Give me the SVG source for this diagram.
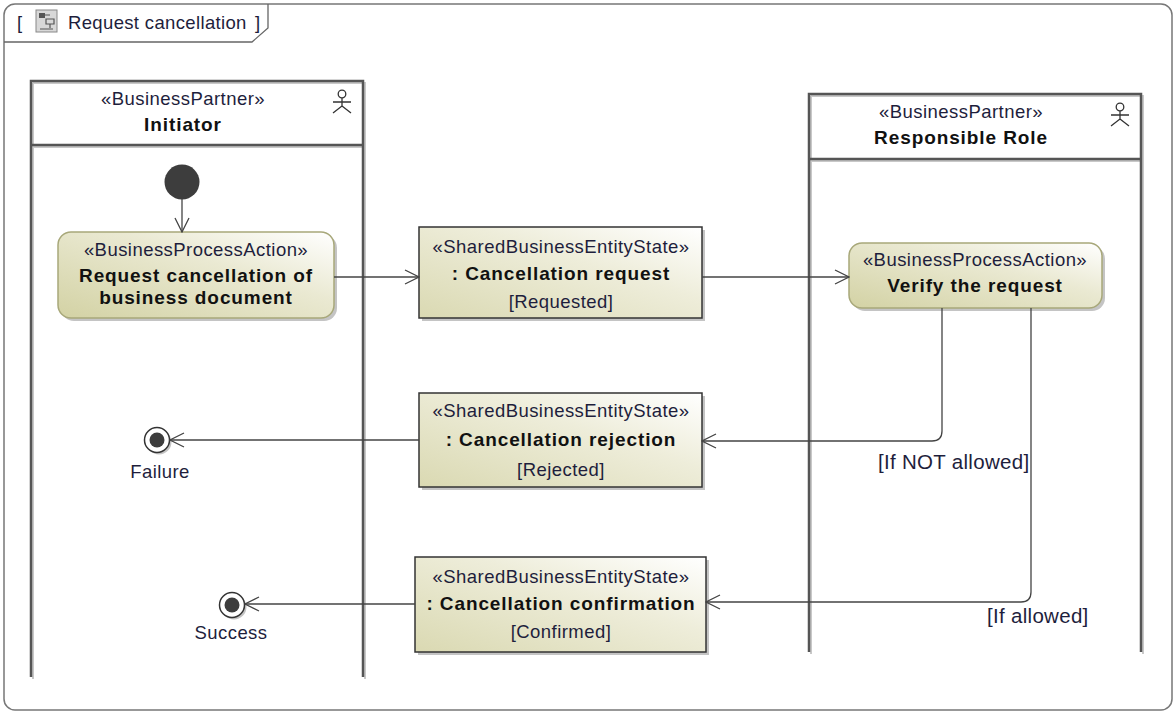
<svg xmlns="http://www.w3.org/2000/svg" width="1176" height="713" viewBox="0 0 1176 713">
<defs>
<style>
.st{font-family:"Liberation Sans",Arial,sans-serif;font-size:18.5px;letter-spacing:0.45px;fill:#1e1e3c;text-anchor:middle}
.nm{font-family:"Liberation Sans",Arial,sans-serif;font-size:19px;font-weight:bold;letter-spacing:0.9px;fill:#111;text-anchor:middle}
.gd{font-family:"Liberation Sans",Arial,sans-serif;font-size:20.5px;letter-spacing:0.3px;fill:#1e1e3c}
.lane{fill:none;stroke:#555;stroke-width:2.5}
.laneSh{fill:none;stroke:#c8c8c8;stroke-width:2}
.act{fill:url(#gAct);stroke:#a8a87a;stroke-width:1.5}
.obj{fill:url(#gObj);stroke:#333;stroke-width:1.5}
.sh{fill:#c4c4c4}
.flow{fill:none;stroke:#444;stroke-width:1.3}
.actor{fill:none;stroke:#333;stroke-width:1.3}
</style>
<linearGradient id="gAct" x1="0" y1="1" x2="1" y2="0">
<stop offset="0" stop-color="#d3d2a4"/>
<stop offset="0.6" stop-color="#eae9d2"/>
<stop offset="1" stop-color="#ffffff"/>
</linearGradient>
<linearGradient id="gObj" x1="0" y1="1" x2="1" y2="0">
<stop offset="0" stop-color="#dad9b2"/>
<stop offset="0.6" stop-color="#eeedda"/>
<stop offset="1" stop-color="#ffffff"/>
</linearGradient>
<marker id="open" viewBox="0 0 16 16" refX="15" refY="8" markerWidth="16" markerHeight="16" markerUnits="userSpaceOnUse" orient="auto">
<path d="M1,1 L15,8 L1,15" fill="none" stroke="#444" stroke-width="1.3"/>
</marker>
</defs>
<rect width="1176" height="713" fill="#ffffff"/>

<g id="frame">
<rect x="4" y="4" width="1168" height="706" rx="11" fill="none" stroke="#777" stroke-width="1.5"/>
<path d="M4,42 H252 L268,28 V4" fill="none" stroke="#666" stroke-width="1.3"/>
<text x="17" y="29" style="font-family:'Liberation Sans',Arial,sans-serif;font-size:18.5px;fill:#1e1e3c">[</text>
<rect x="36" y="10" width="21" height="22" fill="#d8d8d8" stroke="#888" stroke-width="1"/>
<rect x="39" y="13" width="6" height="5" fill="#555"/>
<path d="M45,15 H50 M46,19 H54 V24 H46 Z M50,24 V28 M40,29 H53" fill="none" stroke="#555" stroke-width="1.2"/>
<text x="68" y="29" style="font-family:'Liberation Sans',Arial,sans-serif;font-size:18.5px;letter-spacing:0.35px;fill:#1e1e3c">Request cancellation</text>
<text x="255" y="29" style="font-family:'Liberation Sans',Arial,sans-serif;font-size:18.5px;fill:#1e1e3c">]</text>
</g>

<g id="lane-initiator">
<path class="laneSh" d="M33,83 H365 V679 M33,147 H365 M33,83 V679"/>
<path class="lane" d="M31,677 V81 H363 V677 M31,145 H363"/>
<text class="st" x="183" y="105">«BusinessPartner»</text>
<text class="nm" x="183" y="131">Initiator</text>
<g class="actor">
<circle cx="342" cy="94" r="3.8"/>
<path d="M333,102 H351 M342,98 V106 L333,113 M342,106 L351,113"/>
</g>
</g>

<g id="lane-responsible">
<path class="laneSh" d="M811,96 H1143 V654 M811,161 H1143 M811,96 V654"/>
<path class="lane" d="M809,652 V94 H1141 V652 M809,159 H1141"/>
<text class="st" x="961" y="118">«BusinessPartner»</text>
<text class="nm" x="961" y="144">Responsible Role</text>
<g class="actor">
<circle cx="1120" cy="107" r="3.8"/>
<path d="M1111,115 H1129 M1120,111 V119 L1111,126 M1120,119 L1129,126"/>
</g>
</g>

<g id="initial">
<circle cx="182" cy="182" r="17.5" fill="#3d3d3d"/>
</g>

<g id="action-request">
<rect class="sh" x="61" y="235" width="276" height="86" rx="13"/>
<rect class="act" x="58" y="232" width="276" height="86" rx="13"/>
<text class="st" x="196" y="256">«BusinessProcessAction»</text>
<text class="nm" x="196" y="282">Request cancellation of</text>
<text class="nm" x="196" y="304">business document</text>
</g>

<g id="obj-request">
<rect class="sh" x="422" y="230" width="283" height="91"/>
<rect class="obj" x="419" y="227" width="283" height="91"/>
<text class="st" x="561" y="253">«SharedBusinessEntityState»</text>
<text class="nm" x="561" y="280">: Cancellation request</text>
<text class="st" x="561" y="308">[Requested]</text>
</g>

<g id="action-verify">
<rect class="sh" x="852" y="246" width="253" height="65" rx="13"/>
<rect class="act" x="849" y="243" width="253" height="65" rx="13"/>
<text class="st" x="975" y="266">«BusinessProcessAction»</text>
<text class="nm" x="975" y="292">Verify the request</text>
</g>

<g id="obj-rejection">
<rect class="sh" x="422" y="396" width="283" height="94"/>
<rect class="obj" x="419" y="393" width="283" height="94"/>
<text class="st" x="561" y="417">«SharedBusinessEntityState»</text>
<text class="nm" x="561" y="446">: Cancellation rejection</text>
<text class="st" x="561" y="476">[Rejected]</text>
</g>

<g id="obj-confirmation">
<rect class="sh" x="418" y="560" width="291" height="95"/>
<rect class="obj" x="415" y="557" width="291" height="95"/>
<text class="st" x="561" y="583">«SharedBusinessEntityState»</text>
<text class="nm" x="561" y="610">: Cancellation confirmation</text>
<text class="st" x="561" y="638">[Confirmed]</text>
</g>

<g id="final-failure">
<circle cx="159" cy="442" r="12.5" fill="#c4c4c4"/>
<circle cx="157" cy="440" r="12.5" fill="#fff" stroke="#333" stroke-width="1.5"/>
<circle cx="157" cy="440" r="7.5" fill="#3d3d3d"/>
<text class="st" x="160" y="478">Failure</text>
</g>

<g id="final-success">
<circle cx="234" cy="607" r="12.5" fill="#c4c4c4"/>
<circle cx="232" cy="605" r="12.5" fill="#fff" stroke="#333" stroke-width="1.5"/>
<circle cx="232" cy="605" r="7.5" fill="#3d3d3d"/>
<text class="st" x="231" y="639">Success</text>
</g>

<g id="connectors">
<path class="flow" d="M182,199 V232" marker-end="url(#open)"/>
<path class="flow" d="M334,277 H419" marker-end="url(#open)"/>
<path class="flow" d="M702,277 H849" marker-end="url(#open)"/>
<path class="flow" d="M942,308 V431 Q942,441 932,441 H702" marker-end="url(#open)"/>
<path class="flow" d="M419,440 H170" marker-end="url(#open)"/>
<path class="flow" d="M1031,308 V592 Q1031,602 1021,602 H706" marker-end="url(#open)"/>
<path class="flow" d="M415,604 H245" marker-end="url(#open)"/>
<text class="gd" x="878" y="469">[If NOT allowed]</text>
<text class="gd" x="987" y="623">[If allowed]</text>
</g>
</svg>
